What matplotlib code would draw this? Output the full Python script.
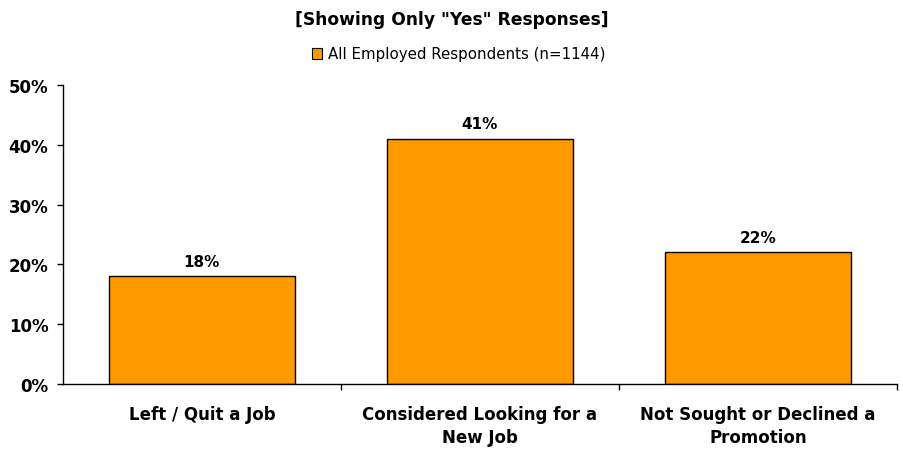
import matplotlib
matplotlib.use("Agg")
import matplotlib.pyplot as plt
from matplotlib.ticker import FixedLocator, PercentFormatter
from matplotlib.patches import Patch

plt.rcParams['font.family'] = ['DejaVu Sans']

categories = ["Left / Quit a Job", "Considered Looking for a\nNew Job", "Not Sought or Declined a\nPromotion"]
values = [18, 41, 22]
series_name = "All Employed Respondents (n=1144)"
title = '[Showing Only "Yes" Responses]'

fig = plt.figure(figsize=(9.04, 4.60), dpi=100)
ax = fig.add_axes([63/904, 1-385/460, (897-63)/904, (385-86)/460])

x = list(range(len(values)))
bars = ax.bar(x, values, width=0.67, color='#FF9900', edgecolor='black', linewidth=1.0, zorder=2)
for xi, v in zip(x, values):
    ax.text(xi, v + 1.3, f"{v}%", ha='center', va='bottom', fontsize=11, fontweight='bold')

ax.set_xlim(-0.5, len(values) - 0.5)
ax.set_ylim(0, 50)
ax.yaxis.set_major_locator(FixedLocator([0, 10, 20, 30, 40, 50]))
ax.yaxis.set_major_formatter(PercentFormatter(decimals=0))
for lab in ax.get_yticklabels():
    lab.set_fontweight('bold')
    lab.set_fontsize(12)
ax.tick_params(axis='y', length=4.5, width=1, pad=6)

ax.set_xticks(x)
ax.set_xticklabels(categories, fontsize=12, fontweight='bold', linespacing=1.35)
ax.tick_params(axis='x', length=0, pad=15)
ax.set_xticks([0.5, 1.5, 2.5], minor=True)
ax.tick_params(axis='x', which='minor', length=4.5, width=1)

for s in ['top', 'right']:
    ax.spines[s].set_visible(False)
ax.spines['left'].set_linewidth(1)
ax.spines['bottom'].set_linewidth(1)

fig.text(0.5, 1-20/460, title, ha='center', va='center', fontsize=12.3, fontweight='bold')
handle = Patch(facecolor='#FF9900', edgecolor='black', linewidth=0.8)
fig.legend([handle], [series_name], loc='center', bbox_to_anchor=(459/904, 1-55/460),
           frameon=False, fontsize=10.8, handlelength=0.7, handleheight=0.7, handletextpad=0.4)

fig.savefig("out.png", dpi=100)
